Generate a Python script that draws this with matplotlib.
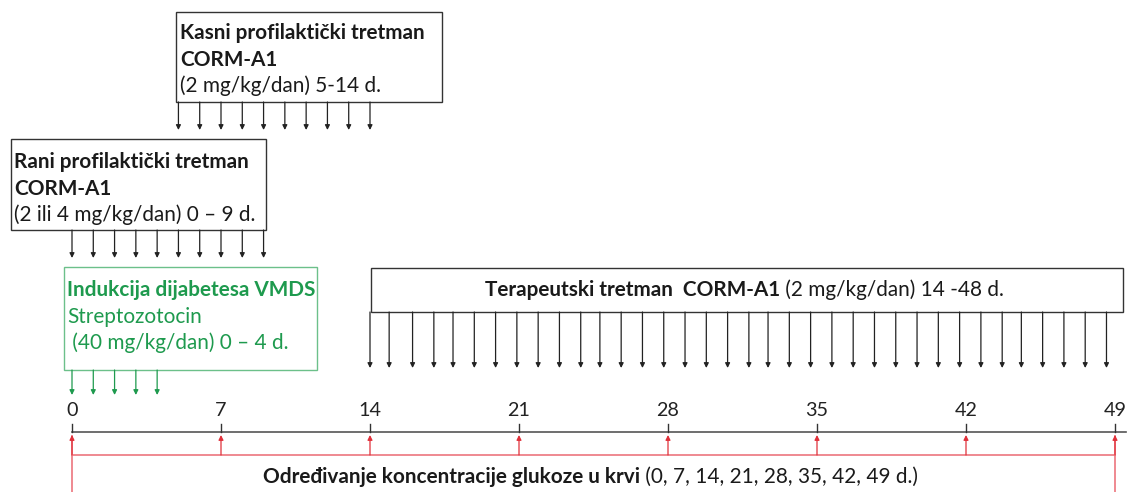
import matplotlib
matplotlib.use("Agg")
import matplotlib.pyplot as plt
from matplotlib.patches import Rectangle

plt.rcParams['font.family'] = ['Lato', 'DejaVu Sans']

# ── Data ──────────────────────────────────────────────────────────────
axis_ticks = [0, 7, 14, 21, 28, 35, 42, 49]          # glucose measurement days
stz_days = [0, 1, 2, 3, 4]                            # streptozotocin
early_days = [0, 1, 2, 3, 4, 5, 6, 7, 8, 9]           # early prophylactic
late_days = [5, 6, 7, 8, 9, 10, 11, 12, 13, 14]       # late prophylactic
ther_days = [14, 14.9, 16, 17, 17.9, 18.9, 19.9, 20.9, 21.9, 22.9, 23.9,
             24.8, 25.8, 26.8, 27.8, 28.8, 29.8, 30.8, 31.8, 32.7, 33.7,
             34.7, 35.7, 36.7, 37.7, 38.7, 39.7, 40.7, 41.7, 42.7, 43.7,
             44.6, 45.6, 46.6, 47.6, 48.6]            # therapeutic

GREEN = "#1e9a4e"
GREEN_EDGE = "#6cc08a"
RED = "#e0303a"
RED_LINE = "#ee8088"
GRAY = "#555555"
INK = "#1a1a1a"

# layout in pixels: day 0 at x=72, day 49 at x=1115
px_per_day = (1115 - 72) / 49


def d(px):
    return (px - 72) / px_per_day


fig = plt.figure(figsize=(11.37, 4.92), dpi=100)
ax = fig.add_axes([0, 0, 1, 1])
ax.set_xlim(d(0), d(1137))
ax.set_ylim(492, 0)
ax.axis("off")

# size the font so the box titles come out as wide as in the original
renderer = fig.canvas.get_renderer()
probe = fig.text(0, 0, "Kasni profilaktički tretman", fontsize=13, weight="bold")
FS = 13 * 246 / probe.get_window_extent(renderer).width
probe.remove()


def down_arrows(days, y_top, y_bot, color):
    for day in days:
        ax.annotate("", xy=(day, y_bot), xytext=(day, y_top),
                    arrowprops=dict(arrowstyle="-|>", color=color, lw=0.9,
                                    mutation_scale=7, shrinkA=0, shrinkB=0))


def box(left, right, top, bottom, edge):
    ax.add_patch(Rectangle((d(left), top), d(right) - d(left), bottom - top,
                           fill=False, edgecolor=edge, lw=1.0))


def two_part(x_px, y, bold, normal, color=INK):
    t = ax.text(d(x_px), y, bold, fontsize=FS, weight="bold", va="baseline", color=color)
    w = t.get_window_extent(renderer).width
    ax.text(d(x_px + w), y, normal, fontsize=FS, va="baseline", color=color)


# ── Late prophylactic box ─────────────────────────────────────────────
box(176, 442, 12, 102, "#333333")
ax.text(d(180), 39, "Kasni profilaktički tretman", fontsize=FS, weight="bold",
        va="baseline", color=INK)
ax.text(d(180), 66, "CORM-A1", fontsize=FS, weight="bold", va="baseline", color=INK)
ax.text(d(180), 92, "(2 mg/kg/dan) 5-14 d.", fontsize=FS, va="baseline", color=INK)
down_arrows(late_days, 102, 130, "#222222")

# ── Early prophylactic box ────────────────────────────────────────────
box(11, 266, 139, 230, "#333333")
ax.text(d(14), 168, "Rani profilaktički tretman", fontsize=FS, weight="bold",
        va="baseline", color=INK)
ax.text(d(14), 195, "CORM-A1", fontsize=FS, weight="bold", va="baseline", color=INK)
ax.text(d(14), 221, "(2 ili 4 mg/kg/dan) 0 – 9 d.", fontsize=FS, va="baseline", color=INK)
down_arrows(early_days, 230, 258, "#222222")

# ── Diabetes induction box ────────────────────────────────────────────
box(64, 317, 267, 370, GREEN_EDGE)
ax.text(d(67), 296, "Indukcija dijabetesa VMDS", fontsize=FS, weight="bold",
        va="baseline", color=GREEN)
ax.text(d(67), 323, "Streptozotocin", fontsize=FS, va="baseline", color=GREEN)
ax.text(d(67), 349, " (40 mg/kg/dan) 0 – 4 d.", fontsize=FS, va="baseline", color=GREEN)
down_arrows(stz_days, 370, 395, GREEN)

# ── Therapeutic box ───────────────────────────────────────────────────
box(371, 1123, 268, 312, "#333333")
two_part(485, 296, "Terapeutski tretman  CORM-A1", " (2 mg/kg/dan) 14 -48 d.")
down_arrows(ther_days, 312, 368, "#222222")

# ── Time axis ─────────────────────────────────────────────────────────
ax.plot([axis_ticks[0], d(1126)], [432, 432], color=GRAY, lw=1.2)
ax.annotate("", xy=(d(1138), 432), xytext=(d(1124), 432),
            arrowprops=dict(arrowstyle="-|>", color="black", lw=0,
                            mutation_scale=18, shrinkA=0, shrinkB=0))
for t in axis_ticks:
    ax.plot([t, t], [424, 432], color="#333333", lw=1.0)
    ax.text(t, 416, str(t), fontsize=FS * 0.95, ha="center", va="baseline", color="#222222")

# ── Glucose measurement (red) ─────────────────────────────────────────
ax.plot([axis_ticks[0], axis_ticks[-1]], [455, 455], color=RED_LINE, lw=1.3)
ax.plot([axis_ticks[0]] * 2, [436, 492], color=RED_LINE, lw=1.3)
ax.plot([axis_ticks[-1]] * 2, [436, 492], color=RED_LINE, lw=1.3)
for t in axis_ticks:
    ax.annotate("", xy=(t, 435), xytext=(t, 455),
                arrowprops=dict(arrowstyle="-|>", color=RED, lw=0.9,
                                mutation_scale=7, shrinkA=0, shrinkB=0))

two_part(263, 483, "Određivanje koncentracije glukoze u krvi",
         " (0, 7, 14, 21, 28, 35, 42, 49 d.)")

fig.savefig("out.png", dpi=100)
